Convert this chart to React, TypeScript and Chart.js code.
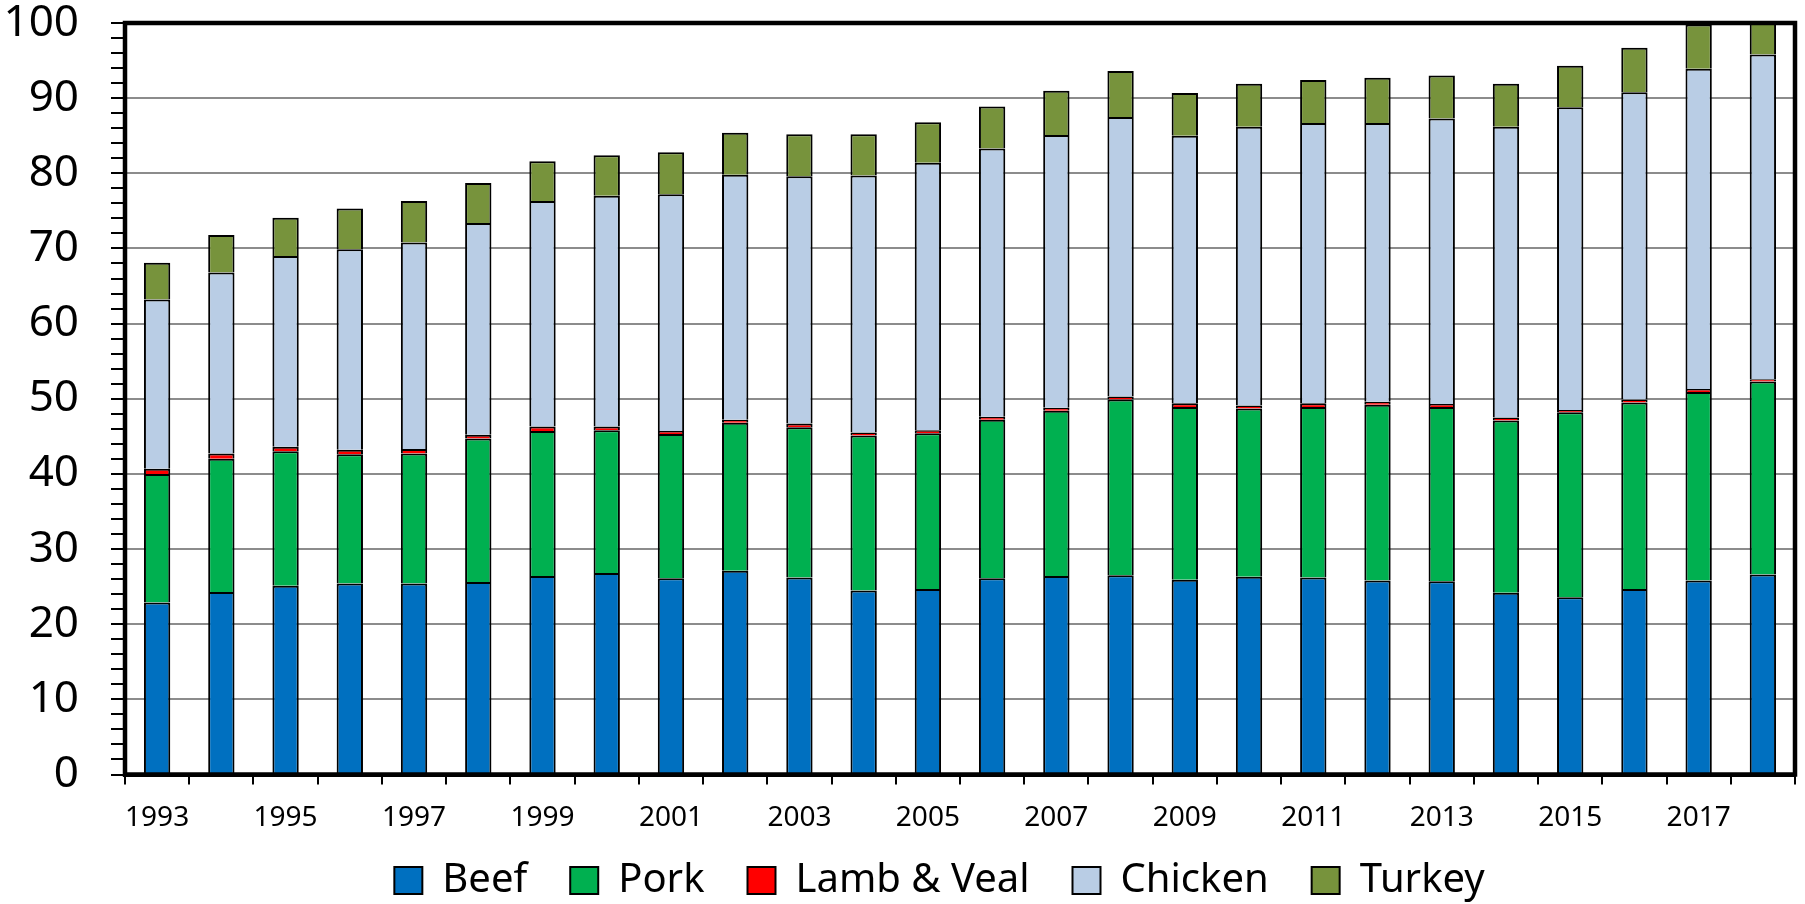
import React, { useEffect, useRef } from "react";
import { Chart, registerables } from "chart.js";

Chart.register(...registerables);

const years = [
  "1993", "1994", "1995", "1996", "1997", "1998", "1999", "2000", "2001",
  "2002", "2003", "2004", "2005", "2006", "2007", "2008", "2009", "2010",
  "2011", "2012", "2013", "2014", "2015", "2016", "2017", "2018",
];

const beef = [22.9, 24.3, 25.1, 25.4, 25.4, 25.6, 26.4, 26.8, 26.1, 27.1, 26.2, 24.5, 24.7, 26.1, 26.4, 26.5, 25.9, 26.3, 26.2, 25.8, 25.7, 24.2, 23.6, 24.7, 25.8, 26.6];
const pork = [17.1, 17.7, 17.9, 17.2, 17.3, 19.1, 19.3, 19.0, 19.2, 19.7, 20.0, 20.6, 20.7, 21.1, 22.0, 23.4, 23.0, 22.4, 22.7, 23.4, 23.2, 22.9, 24.6, 24.8, 25.1, 25.7];
const lambVeal = [0.7, 0.7, 0.6, 0.6, 0.6, 0.5, 0.6, 0.5, 0.4, 0.4, 0.5, 0.4, 0.4, 0.4, 0.4, 0.4, 0.5, 0.4, 0.5, 0.4, 0.4, 0.4, 0.3, 0.4, 0.4, 0.3];
const chicken = [22.5, 24.1, 25.4, 26.7, 27.5, 28.2, 30.0, 30.7, 31.5, 32.6, 32.9, 34.2, 35.6, 35.7, 36.3, 37.2, 35.6, 37.1, 37.3, 37.1, 38.0, 38.7, 40.3, 40.9, 42.6, 43.2];
const turkey = [4.9, 5.0, 5.1, 5.4, 5.5, 5.3, 5.3, 5.4, 5.6, 5.6, 5.6, 5.5, 5.4, 5.6, 5.9, 6.1, 5.7, 5.7, 5.7, 6.0, 5.7, 5.7, 5.5, 5.9, 5.9, 5.7];

const seriesNames = ["Beef", "Pork", "Lamb & Veal", "Chicken", "Turkey"];
const seriesColors = ["#0070C0", "#00B050", "#FF0000", "#B9CDE5", "#77933C"];

const frame = {
  id: "frame",
  afterDatasetsDraw(chart: any) {
    const { ctx, chartArea: a } = chart;
    ctx.save();
    ctx.strokeStyle = "#000";
    ctx.lineWidth = 4.5;
    ctx.strokeRect(a.left, a.top, a.right - a.left, a.bottom - a.top);
    ctx.restore();
  },
};

export default function App() {
  const ref = useRef<HTMLCanvasElement>(null);

  useEffect(() => {
    document.body.style.margin = "0";
    Chart.defaults.font.family = "'Noto Sans', sans-serif";
    const values = [beef, pork, lambVeal, chicken, turkey];
    const chart = new Chart(ref.current as HTMLCanvasElement, {
      type: "bar",
      data: {
        labels: years,
        datasets: values.map((d, i) => ({
          label: seriesNames[i],
          data: d,
          backgroundColor: seriesColors[i],
          borderColor: "#000",
          borderWidth: 2,
          barPercentage: 0.41,
          categoryPercentage: 1,
        })),
      },
      options: {
        responsive: false,
        animation: false,
        layout: { padding: { top: 23, right: 10, left: 84, bottom: -6.5 } },
        plugins: {
          tooltip: { enabled: false },
          legend: {
            position: "bottom",
            labels: {
              color: "#000",
              font: { size: 40 },
              boxWidth: 28,
              boxHeight: 27,
              padding: 43,
            },
          },
        },
        scales: {
          x: {
            stacked: true,
            afterFit: (s: any) => {
              s.height = 43;
              s.paddingLeft = 0;
              s.paddingRight = 0;
            },
            grid: {
              offset: true,
              drawOnChartArea: false,
              drawTicks: true,
              tickLength: 10,
              color: "#000",
              lineWidth: 2,
            },
            border: { color: "#000", width: 4 },
            ticks: {
              autoSkip: false,
              maxRotation: 0,
              mirror: true,
              color: "#000",
              font: { size: 28 },
              padding: -60,
              callback: (_v: any, i: number) => (i % 2 === 0 ? years[i] : ""),
            },
          },
          y: {
            stacked: true,
            min: 0,
            max: 100,
            afterFit: (s: any) => {
              s.width = 41;
              s.paddingTop = 0;
              s.paddingBottom = 0;
            },
            grid: {
              color: (c: any) => (c.tick && c.tick.value % 10 === 0 ? "#8C8C8C" : "rgba(0,0,0,0)"),
              tickColor: "#000",
              lineWidth: 2,
              tickLength: 14,
            },
            border: { color: "#000", width: 4 },
            ticks: {
              stepSize: 2,
              autoSkip: false,
              mirror: true,
              crossAlign: "far",
              color: "#000",
              padding: -121.5,
              font: { size: 44, lineHeight: 1 },
              callback: (v: any) => (Number(v) % 10 === 0 ? String(v) : ""),
            },
          },
        },
      },
      plugins: [frame],
    });
    return () => chart.destroy();
  }, []);

  return (
    <div style={{ width: 1805, height: 904 }}>
      <canvas ref={ref} width={1805} height={904} style={{ display: "block" }} />
    </div>
  );
}
